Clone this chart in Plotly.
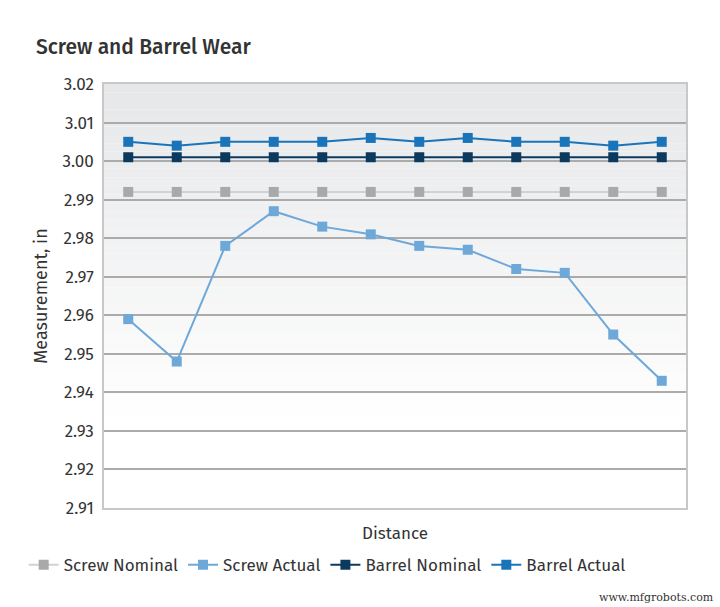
import plotly.graph_objects as go

positions = list(range(1, 13))
screw_nominal = [2.992] * 12
screw_actual = [2.959, 2.948, 2.978, 2.987, 2.983, 2.981, 2.978, 2.977, 2.972, 2.971, 2.955, 2.943]
barrel_nominal = [3.001] * 12
barrel_actual = [3.005, 3.004, 3.005, 3.005, 3.005, 3.006, 3.005, 3.006, 3.005, 3.005, 3.004, 3.005]

y_ticks = [3.02, 3.01, 3.00, 2.99, 2.98, 2.97, 2.96, 2.95, 2.94, 2.93, 2.92, 2.91]
y_ticktext = ["%.2f" % v for v in y_ticks]

FONT = "Fira Sans, Noto Sans, sans-serif"

fig = go.Figure()

series = [
    ("Screw Nominal", screw_nominal, "#a9a9a9", "#d2d2d2", 2),
    ("Screw Actual", screw_actual, "#6ea8d9", "#6ea8d9", 2),
    ("Barrel Nominal", barrel_nominal, "#0c3a5f", "#0c3a5f", 2),
    ("Barrel Actual", barrel_actual, "#1a74ba", "#1a74ba", 2),
]
for name, vals, mcol, lcol, lw in series:
    fig.add_trace(go.Scatter(
        x=positions, y=vals, name=name, mode="lines+markers",
        line=dict(color=lcol, width=lw),
        marker=dict(symbol="square", size=10, color=mcol),
    ))

# gradient background bands
shapes = []
n = 40
top = (230, 231, 233)
for i in range(n):
    y0 = 0.2 + (0.8 * i / n)
    y1 = 0.2 + (0.8 * (i + 1) / n)
    t = (i + 0.5) / n
    c = tuple(int(round(255 + (top[k] - 255) * t)) for k in range(3))
    shapes.append(dict(type="rect", xref="x domain", yref="y domain",
                       x0=0, x1=1, y0=y0, y1=y1, line=dict(width=0),
                       fillcolor="rgb(%d,%d,%d)" % c, layer="below"))

fig.update_layout(
    width=720, height=607,
    margin=dict(l=104, r=34, t=84, b=99),
    paper_bgcolor="white", plot_bgcolor="white",
    font=dict(family=FONT, color="#333333", size=15),
    shapes=shapes,
    title=dict(text="Screw and Barrel Wear", x=36 / 720, xanchor="left",
               y=1 - 47 / 607, yanchor="middle",
               font=dict(family=FONT, size=21, color="#333333", weight=500)),
    xaxis=dict(range=[0.5, 12.5], showticklabels=False, showgrid=False,
               zeroline=False, showline=True, linecolor="#c8c8c8", linewidth=1.5, mirror=True,
               title=dict(text="Distance", font=dict(size=17, color="#333333"), standoff=18),
               ticks=""),
    yaxis=dict(range=[2.91, 3.02], tickvals=y_ticks, ticktext=y_ticktext,
               showgrid=True, gridcolor="#ababab", gridwidth=1.5, zeroline=False,
               showline=True, linecolor="#c8c8c8", linewidth=1.5, mirror=True,
               ticks="outside", ticklen=5, tickcolor="rgba(0,0,0,0)",
               tickfont=dict(size=17, color="#333333"),
               title=dict(text="Measurement, in", font=dict(size=18, color="#333333"), standoff=10)),
    legend=dict(orientation="h", x=-0.138, xanchor="left", y=-0.135, yanchor="middle",
                font=dict(size=17, color="#333333"), itemwidth=30, bgcolor="rgba(0,0,0,0)"),
    annotations=[dict(text="www.mfgrobots.com", xref="paper", yref="paper",
                      x=1 + 30 / 582, y=-(597 - 508) / 424, xanchor="right", yanchor="middle",
                      showarrow=False, font=dict(family="DejaVu Serif, serif", size=11, color="#333333"))],
)

fig.write_html("out.html")
